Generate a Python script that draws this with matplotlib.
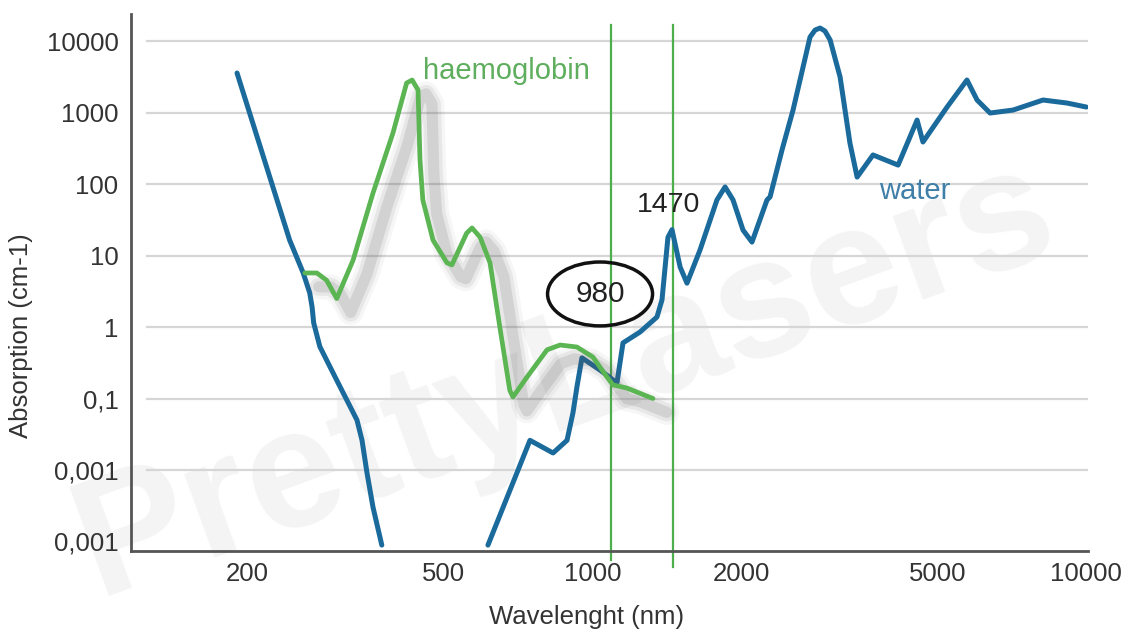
import matplotlib
matplotlib.use("Agg")
import matplotlib.pyplot as plt
import matplotlib.patheffects as pe
from matplotlib.patches import Ellipse

plt.rcParams['font.family'] = ['Liberation Sans', 'DejaVu Sans']

# water, UV side (nm, cm-1)
water_uv_nm = [191, 244, 260, 268, 271, 273, 281, 304, 334, 342, 350, 360, 375]
water_uv_abs = [3570, 16.5, 5.7, 3.0, 1.9, 1.14, 0.53, 0.18, 0.05, 0.026, 0.0091, 0.0030, 0.00089]

# water, visible -> IR
water_ir_nm = [615, 748, 833, 889, 914, 931, 953, 1037, 1122, 1154, 1249, 1352, 1384,
               1423, 1450, 1506, 1555, 1652, 1788, 1857, 1927, 2019, 2105, 2258, 2290,
               2421, 2549, 2759, 2825, 2891, 2958, 3030, 3174, 3323, 3436, 3700, 4159,
               4544, 4670, 5226, 5733, 6010, 6385, 7108, 8172, 9138, 10000]
water_ir_abs = [0.00089, 0.026, 0.0173, 0.026, 0.063, 0.145, 0.37, 0.25, 0.165, 0.60,
                0.85, 1.38, 2.4, 18, 23, 6.9, 4.1, 11.9, 60, 91, 60, 22.7, 15.4, 60, 66,
                299, 1083, 11370, 14250, 15200, 13800, 10330, 3140, 374, 125, 255, 184,
                785, 387, 1194, 2850, 1496, 984, 1083, 1496, 1358, 1194]

# haemoglobin
hb_nm = [262, 277, 290, 304, 328, 360, 395, 421, 432, 444, 448, 454, 476, 508, 520,
         557, 571, 593, 621, 650, 681, 691, 738, 810, 861, 931, 1003, 1071, 1101,
         1175, 1327]
hb_abs = [5.7, 5.7, 4.5, 2.5, 8.6, 75, 517, 2590, 2850, 2065, 217, 60, 16.5, 7.9, 7.4,
          20.6, 24.3, 18, 7.9, 1.0, 0.13, 0.105, 0.2, 0.48, 0.56, 0.525, 0.38, 0.2,
          0.155, 0.14, 0.10]

laser_nm = [1090, 1460]   # where the two marker lines sit on the axis
x_ticks = [200, 500, 1000, 2000, 5000, 10000]
x_labels = ['200', '500', '1000', '2000', '5000', '10000']
y_ticks = [1e4, 1e3, 1e2, 1e1, 1, 0.1, 0.01, 0.001]
y_labels = ['10000', '1000', '100', '10', '1', '0,1', '0,001', '0,001']

blue = '#1b6a9c'
green = '#5ab552'

fig = plt.figure(figsize=(11.26, 6.29), dpi=100)
ax = fig.add_axes([0.1163, 0.124, 0.85, 0.8537])
ax.set_xscale('log')
ax.set_yscale('log')
ax.set_xlim(116.5, 10080)
ax.set_ylim(7.36e-4, 23870)

# watermark
ax.text(0.4535, 0.32, 'PrettyLasers', transform=ax.transAxes, fontsize=122,
        fontweight='bold', color='#f4f4f4', rotation=20, ha='center', va='center',
        zorder=0.5, clip_on=False)

for yv in y_ticks[:-1]:
    ax.axhline(yv, xmin=0.0167, xmax=1, color='#d6d6d6', lw=1.6, zorder=1)

for xv, yb in zip(laser_nm, [-0.017, -0.03]):
    ax.axvline(xv, ymin=yb, ymax=0.98, color='#4cae4c', lw=1.6, zorder=2, clip_on=False)

ax.plot(water_uv_nm, water_uv_abs, color=blue, lw=3.6, solid_capstyle='round',
        solid_joinstyle='round', zorder=3)
ax.plot(water_ir_nm, water_ir_abs, color=blue, lw=3.6, solid_capstyle='round',
        solid_joinstyle='round', zorder=3)

shadow = [pe.SimpleLineShadow(offset=(10, -10), shadow_color='#555555', alpha=a, linewidth=w)
          for w, a in [(18, 0.05), (13, 0.09), (8, 0.14)]]
ax.plot(hb_nm, hb_abs, color=green, lw=3.4, solid_capstyle='round',
        solid_joinstyle='round', zorder=4, path_effects=shadow + [pe.Normal()])

ax.text(669, 3800, 'haemoglobin', color='#5eae5e', fontsize=21, ha='center', va='center', zorder=5)
ax.text(4500, 80, 'water', color='#3f7fa8', fontsize=21, ha='center', va='center', zorder=5)
ax.text(1430, 51, '1470', color='#222222', fontsize=20.5, ha='center', va='center', zorder=5)
ax.text(1037, 2.9, '980', color='#222222', fontsize=21.5, ha='center', va='center', zorder=5)

cx, cy = ax.transAxes.inverted().transform(ax.transData.transform((1037, 2.9)))
ax.add_patch(Ellipse((cx, cy), 0.1097, 0.119, transform=ax.transAxes, fill=False,
                     ec='#111111', lw=2.5, zorder=5))

ax.set_xticks(x_ticks, labels=x_labels)
ax.set_yticks(y_ticks, labels=y_labels)
ax.minorticks_off()
ax.tick_params(axis='both', length=0, labelsize=18.5, colors='#333333')
ax.tick_params(axis='x', pad=8)
ax.tick_params(axis='y', pad=9)

for s in ['top', 'right']:
    ax.spines[s].set_visible(False)
for s in ['left', 'bottom']:
    ax.spines[s].set_color('#555555')
    ax.spines[s].set_linewidth(2)

ax.set_xlabel('Wavelenght (nm)', fontsize=18.5, color='#333333')
ax.set_ylabel('Absorption (cm-1)', fontsize=18.5, color='#333333')
ax.xaxis.set_label_coords(0.4765, -0.1)
ax.yaxis.set_label_coords(-0.1024, 0.402)

fig.savefig('out.png', dpi=100, facecolor='white')
